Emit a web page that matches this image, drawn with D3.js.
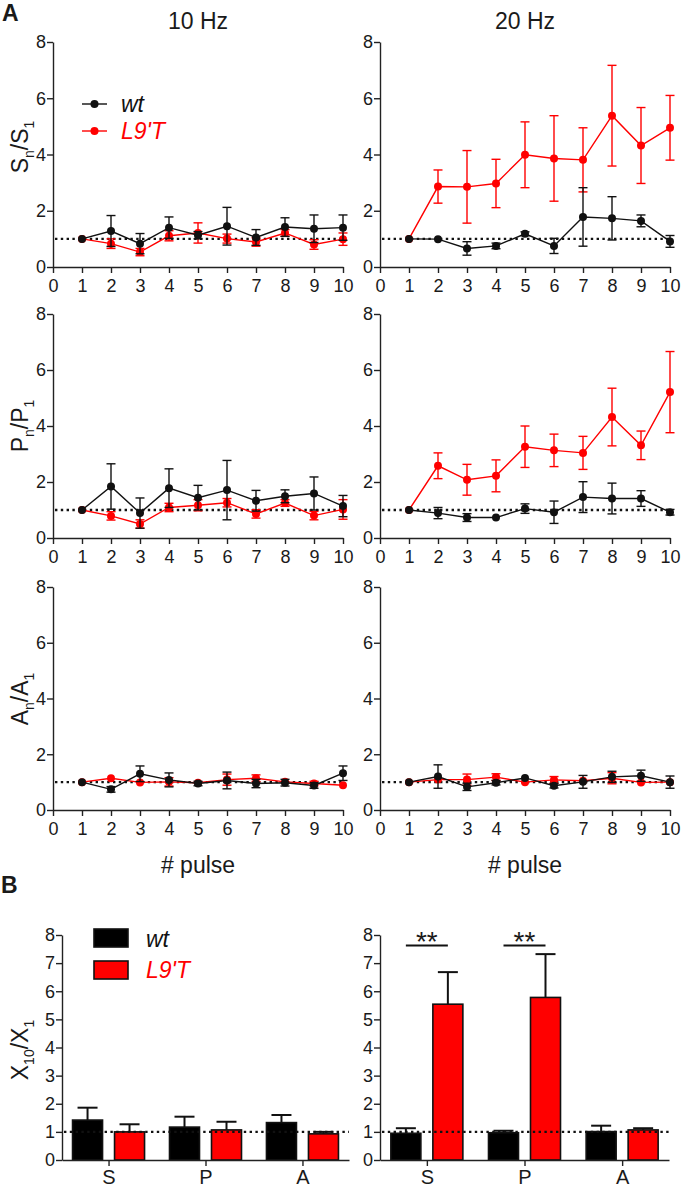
<!DOCTYPE html>
<html><head><meta charset="utf-8">
<script src="https://cdn.jsdelivr.net/npm/d3@7"></script>
<style>
body{margin:0;background:#fff}
text{font-family:"Liberation Sans",Arial,Helvetica,sans-serif;fill:#1a1a1a}
</style>
</head><body>
<svg id="chart" width="682" height="1191"></svg>
<script>
// ---------- DATA ----------
const pulses = [1,2,3,4,5,6,7,8,9,10];
const xTicks = [0,1,2,3,4,5,6,7,8,9,10];
const yTicksLine = [0,2,4,6,8];
const yTicksBar = [0,1,2,3,4,5,6,7,8];
const seriesNames = ["wt", "L9'T"];
const freqTitles = ["10 Hz", "20 Hz"];

// S 10 Hz
const S10_wt     = [1.00,1.28,0.83,1.40,1.13,1.45,1.05,1.42,1.36,1.40];
const S10_wtErr  = [0,0.55,0.36,0.38,0.13,0.67,0.28,0.33,0.49,0.45];
const S10_mut    = [1.00,0.83,0.53,1.11,1.21,1.01,0.89,1.21,0.80,0.99];
const S10_mutErr = [0,0.17,0.13,0.18,0.36,0.16,0.15,0.12,0.17,0.22];
// S 20 Hz
const S20_wt     = [1.00,0.99,0.66,0.75,1.18,0.75,1.78,1.73,1.64,0.91];
const S20_wtErr  = [0,0.05,0.24,0.10,0.07,0.27,1.04,0.77,0.21,0.21];
const S20_mut    = [1.00,2.86,2.85,2.97,3.99,3.86,3.81,5.38,4.32,4.95];
const S20_mutErr = [0,0.59,1.29,0.86,1.17,1.52,1.14,1.79,1.35,1.15];
// P 10 Hz
const P10_wt     = [1.00,1.84,0.89,1.78,1.44,1.71,1.33,1.49,1.59,1.14];
const P10_wtErr  = [0,0.81,0.54,0.69,0.44,1.06,0.37,0.23,0.59,0.38];
const P10_mut    = [1.00,0.79,0.50,1.09,1.17,1.26,0.86,1.25,0.80,1.02];
const P10_mutErr = [0,0.15,0.15,0.15,0.20,0.15,0.15,0.12,0.15,0.35];
// P 20 Hz
const P20_wt     = [1.00,0.89,0.73,0.73,1.05,0.92,1.46,1.41,1.41,0.92];
const P20_wtErr  = [0,0.20,0.14,0.05,0.17,0.40,0.55,0.55,0.28,0.10];
const P20_mut    = [1.00,2.58,2.08,2.22,3.26,3.13,3.04,4.32,3.31,5.21];
const P20_mutErr = [0,0.46,0.55,0.57,0.74,0.58,0.59,1.03,0.51,1.45];
// A 10 Hz
const A10_wt     = [1.00,0.74,1.30,1.08,0.95,1.06,0.95,0.98,0.88,1.32];
const A10_wtErr  = [0,0.10,0.28,0.25,0.08,0.30,0.15,0.12,0.10,0.26];
const A10_mut    = [1.00,1.14,0.99,1.01,0.98,1.09,1.14,1.01,0.95,0.89];
const A10_mutErr = [0,0.05,0.05,0.15,0.05,0.20,0.12,0.05,0.08,0.05];
// A 20 Hz
const A20_wt     = [1.00,1.20,0.83,0.98,1.15,0.87,1.01,1.19,1.23,1.00];
const A20_wtErr  = [0,0.42,0.13,0.08,0.05,0.08,0.23,0.20,0.20,0.22];
const A20_mut    = [1.00,1.09,1.09,1.18,1.00,1.08,1.05,1.14,0.99,1.00];
const A20_mutErr = [0,0.05,0.20,0.12,0.05,0.12,0.05,0.20,0.05,0.05];

// Bars (X10/X1)
const barCats = ["S","P","A"];
const B10_wt     = [1.42,1.17,1.33];
const B10_wtErr  = [0.44,0.37,0.27];
const B10_mut    = [1.00,1.07,0.93];
const B10_mutErr = [0.27,0.29,0.07];
const B20_wt     = [0.95,0.97,1.01];
const B20_wtErr  = [0.18,0.07,0.21];
const B20_mut    = [5.54,5.78,1.07];
const B20_mutErr = [1.14,1.54,0.06];
const B20_sigCats = ["S","P"];
const sigLevel = 7.63;

// ---------- DRAWING ----------
const svg = d3.select("#chart");
svg.append("rect").attr("width",682).attr("height",1191).attr("fill","#fff");
const BLACK = "#111", RED = "#ff0000", AXIS = "#222";

function styleAxis(g, fs){
  g.select(".domain").attr("stroke",AXIS).attr("stroke-width",1.4);
  g.selectAll(".tick line").attr("stroke",AXIS).attr("stroke-width",1.4);
  g.selectAll(".tick text").attr("font-size",fs).attr("fill","#1a1a1a")
    .style("font-family",'"Liberation Sans",Arial,sans-serif');
}

function drawLinePanel(x0, yBot, yTop, wt, wtErr, mut, mutErr){
  const x = d3.scaleLinear().domain([0,10]).range([x0, x0+290]);
  const y = d3.scaleLinear().domain([0,8]).range([yBot, yTop]);
  const g = svg.append("g");
  g.append("g").attr("transform",`translate(0,${yBot})`)
    .call(d3.axisBottom(x).tickValues(xTicks).tickSize(6).tickPadding(6).tickSizeOuter(0))
    .call(a=>styleAxis(a,18));
  g.append("g").attr("transform",`translate(${x0},0)`)
    .call(d3.axisLeft(y).tickValues(yTicksLine).tickSize(6).tickPadding(1).tickSizeOuter(0))
    .call(a=>styleAxis(a,18));
  g.append("line").attr("x1",x(0)+2).attr("x2",x(10)).attr("y1",y(1)).attr("y2",y(1))
    .attr("stroke","#111").attr("stroke-width",2.4).attr("stroke-dasharray","2.4,3.4");
  const sets = [[mut,mutErr,RED],[wt,wtErr,BLACK]];
  sets.forEach(([vals,errs,col])=>{
    const d = pulses.map((p,i)=>({p, v:vals[i], e:errs[i]}));
    const eg = g.append("g").attr("stroke",col).attr("stroke-width",1.4);
    d.filter(q=>q.e>0.06).forEach(q=>{
      eg.append("line").attr("x1",x(q.p)).attr("x2",x(q.p)).attr("y1",y(q.v-q.e)).attr("y2",y(q.v+q.e));
      [q.v-q.e,q.v+q.e].forEach(t=>eg.append("line").attr("x1",x(q.p)-4.5).attr("x2",x(q.p)+4.5)
        .attr("y1",y(t)).attr("y2",y(t)));
    });
    g.append("path").datum(d).attr("fill","none").attr("stroke",col).attr("stroke-width",1.4)
      .attr("d",d3.line().x(q=>x(q.p)).y(q=>y(q.v)));
    g.selectAll(null).data(d).enter().append("circle")
      .attr("cx",q=>x(q.p)).attr("cy",q=>y(q.v)).attr("r",4).attr("fill",col);
  });
}

function yLabel(cx, cy, main, sub1, sub2){
  const t = svg.append("text").attr("transform",`translate(${cx},${cy}) rotate(-90)`)
    .attr("text-anchor","middle").attr("font-size",23);
  t.append("tspan").text(main);
  t.append("tspan").attr("dy",6).attr("font-size",14).text(sub1);
  t.append("tspan").attr("dy",-6).text("/"+main);
  t.append("tspan").attr("dy",6).attr("font-size",14).text(sub2);
}

const cols = [53, 380];
const rows = [[267,42],[538,314],[810,587]];
const lineData = [
  [[S10_wt,S10_wtErr,S10_mut,S10_mutErr],[S20_wt,S20_wtErr,S20_mut,S20_mutErr]],
  [[P10_wt,P10_wtErr,P10_mut,P10_mutErr],[P20_wt,P20_wtErr,P20_mut,P20_mutErr]],
  [[A10_wt,A10_wtErr,A10_mut,A10_mutErr],[A20_wt,A20_wtErr,A20_mut,A20_mutErr]]
];
rows.forEach((r,ri)=>cols.forEach((c,ci)=>{
  const dd = lineData[ri][ci];
  drawLinePanel(c, r[0], r[1], dd[0], dd[1], dd[2], dd[3]);
}));
yLabel(28,147,"S","n","1");
yLabel(28,426,"P","n","1");
yLabel(28,699,"A","n","1");

// titles
svg.append("text").attr("x",198).attr("y",29).attr("text-anchor","middle").attr("font-size",23).text(freqTitles[0]);
svg.append("text").attr("x",525).attr("y",29).attr("text-anchor","middle").attr("font-size",23).text(freqTitles[1]);
svg.append("text").attr("x",198).attr("y",873).attr("text-anchor","middle").attr("font-size",23).text("# pulse");
svg.append("text").attr("x",525).attr("y",873).attr("text-anchor","middle").attr("font-size",23).text("# pulse");
svg.append("text").attr("x",2).attr("y",21).attr("font-size",23).attr("font-weight","bold").text("A");
svg.append("text").attr("x",1).attr("y",893).attr("font-size",23).attr("font-weight","bold").text("B");

// line legend
[[104,BLACK,seriesNames[0],112],[131,RED,seriesNames[1],139]].forEach(([yy,col,name,by])=>{
  svg.append("line").attr("x1",82).attr("x2",107).attr("y1",yy).attr("y2",yy).attr("stroke",col).attr("stroke-width",1.4);
  svg.append("circle").attr("cx",94.5).attr("cy",yy).attr("r",4).attr("fill",col);
  svg.append("text").attr("x",121).attr("y",by).attr("font-size",23).attr("font-style","italic")
    .style("fill",col===RED?RED:"#111").text(name);
});

// bar panels
function drawBarPanel(x0, x1, wt, wtErr, mut, mutErr, sigCats){
  const y = d3.scaleLinear().domain([0,8]).range([1160,935]);
  const xp = d3.scalePoint().domain(barCats).range([x0,x1]).padding(0.48);
  const g = svg.append("g");
  const bw = 30, off = 21;
  const sets = [[wt,wtErr,"#000",-off],[mut,mutErr,RED,off]];
  sets.forEach(([vals,errs,col,o])=>{
    barCats.forEach((c,i)=>{
      const cx = xp(c)+o;
      g.append("line").attr("x1",cx).attr("x2",cx).attr("y1",y(vals[i])).attr("y2",y(vals[i]+errs[i]))
        .attr("stroke","#111").attr("stroke-width",2);
      g.append("line").attr("x1",cx-10).attr("x2",cx+10).attr("y1",y(vals[i]+errs[i])).attr("y2",y(vals[i]+errs[i]))
        .attr("stroke","#111").attr("stroke-width",2);
      g.append("rect").attr("x",cx-bw/2).attr("width",bw).attr("y",y(vals[i])).attr("height",y(0)-y(vals[i]))
        .attr("fill",col).attr("stroke","#111").attr("stroke-width",1.6);
    });
  });
  g.append("g").attr("transform",`translate(0,1160)`)
    .call(d3.axisBottom(xp).tickSize(6).tickPadding(4).tickSizeOuter(0))
    .call(a=>styleAxis(a,20));
  g.append("g").attr("transform",`translate(${x0},0)`)
    .call(d3.axisLeft(y).tickValues(yTicksBar).tickSize(6).tickPadding(1).tickSizeOuter(0))
    .call(a=>styleAxis(a,18));
  g.append("line").attr("x1",x0+2).attr("x2",x1).attr("y1",y(1)).attr("y2",y(1))
    .attr("stroke","#111").attr("stroke-width",2.4).attr("stroke-dasharray","2.4,3.4");
  sigCats.forEach(c=>{
    g.append("line").attr("x1",xp(c)-off).attr("x2",xp(c)+off).attr("y1",y(sigLevel)).attr("y2",y(sigLevel))
      .attr("stroke","#111").attr("stroke-width",2);
    g.append("text").attr("x",xp(c)).attr("y",y(sigLevel)+6).attr("text-anchor","middle")
      .attr("font-size",28).text("**");
  });
}
drawBarPanel(62, 349, B10_wt, B10_wtErr, B10_mut, B10_mutErr, []);
drawBarPanel(380, 669, B20_wt, B20_wtErr, B20_mut, B20_mutErr, B20_sigCats);

// bar y label
(function(){
  const t = svg.append("text").attr("transform",`translate(28,1050) rotate(-90)`)
    .attr("text-anchor","middle").attr("font-size",23);
  t.append("tspan").text("X");
  t.append("tspan").attr("dy",6).attr("font-size",14).text("10");
  t.append("tspan").attr("dy",-6).text("/X");
  t.append("tspan").attr("dy",6).attr("font-size",14).text("1");
})();

// bar legend
svg.append("rect").attr("x",94).attr("y",929).attr("width",34).attr("height",18).attr("fill","#000").attr("stroke","#111").attr("stroke-width",1.6);
svg.append("rect").attr("x",94).attr("y",961).attr("width",34).attr("height",18).attr("fill",RED).attr("stroke","#111").attr("stroke-width",1.6);
svg.append("text").attr("x",146).attr("y",947).attr("font-size",23).attr("font-style","italic").style("fill","#111").text(seriesNames[0]);
svg.append("text").attr("x",146).attr("y",978).attr("font-size",23).attr("font-style","italic").style("fill",RED).text(seriesNames[1]);
</script>
</body></html>
